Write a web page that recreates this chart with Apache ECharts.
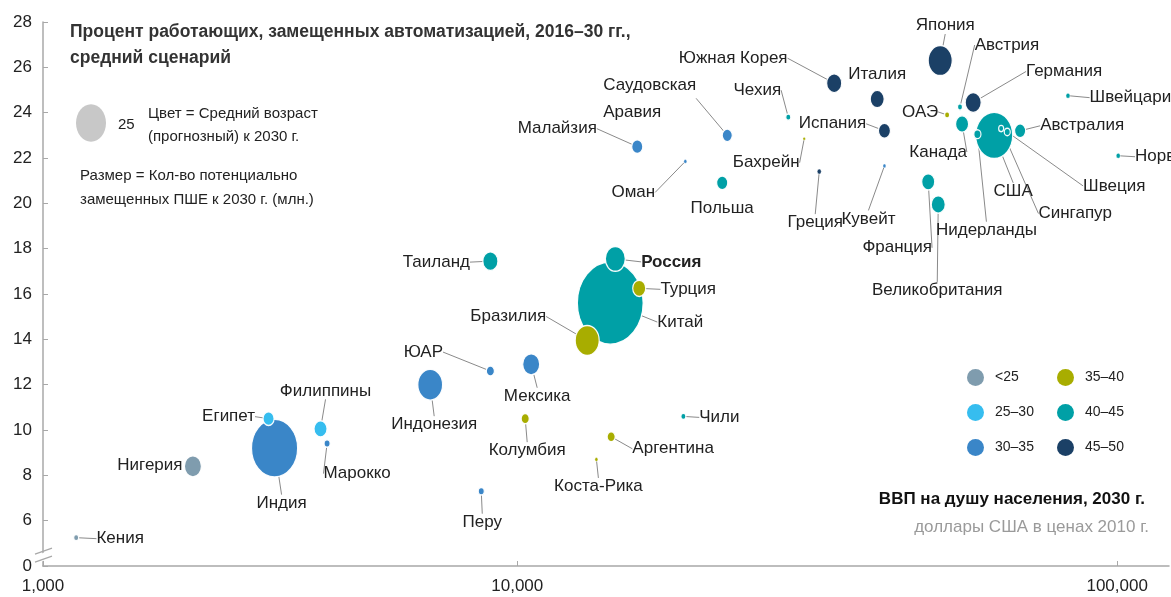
<!DOCTYPE html>
<html><head><meta charset="utf-8">
<script src="https://cdn.jsdelivr.net/npm/echarts@6/dist/echarts.min.js"></script>
<style>html,body{margin:0;padding:0;background:#fff}#c{width:1171px;height:597px}</style>
</head><body><div id="c"></div>
<script>
// ---------------- data ----------------
const countries = ['Кения','Нигерия','Индия','Египет','Филиппины','Марокко','Индонезия','ЮАР','Мексика','Колумбия','Перу','Таиланд','Россия','Китай','Турция','Бразилия','Коста-Рика','Аргентина','Чили','Малайзия','Саудовская Аравия','Оман','Польша','Чехия','Бахрейн','Южная Корея','Италия','Испания','Греция','Кувейт','Япония','Австрия','Германия','ОАЭ','Канада','США','Нидерланды','Сингапур','Швеция','Австралия','Швейцария','Норвегия','Франция','Великобритания'];
// GDP per capita 2030, USD (2010 prices)
const gdpPerCapita = [1840,2880,3940,3850,4700,4820,7160,9020,10550,10310,8710,9020,14570,14290,15970,13080,13550,14340,18920,15850,22390,19060,21960,28300,30080,33750,39810,40930,31870,40930,50700,54700,57540,52060,55140,62370,58480,64060,65580,68900,82790,100400,48420,50320];
// share of workers displaced by automation 2016-30, %
const pctDisplaced = [5.25,8.4,9.2,10.5,10.05,9.4,12.0,12.6,12.9,10.5,7.3,17.45,17.55,15.6,16.25,13.95,8.7,9.7,10.6,22.5,23.0,21.85,20.9,23.8,22.85,25.3,24.6,23.2,21.4,21.65,26.3,24.25,24.45,23.9,23.5,23.0,23.05,23.3,23.15,23.2,24.75,22.1,20.95,19.95];
// potentially displaced FTE by 2030, millions
const displacedMln = [0.7,8.0,59,3.4,4.7,1.0,17,1.8,8.0,1.8,1.0,6.3,11,120,4.7,16,0.25,1.8,0.7,3.4,2.8,0.25,3.4,0.7,0.17,6.3,5.4,4.0,0.45,0.25,16,0.7,7.1,0.7,4.7,38,1.4,0.7,1.0,3.4,0.45,0.45,4.7,5.4];
// median age group index (into ageCategories)
const ageGroup = [0,0,2,1,1,2,2,2,2,3,2,4,4,4,3,3,3,3,4,2,2,2,4,4,3,5,5,5,5,2,5,4,5,3,4,4,4,4,4,4,4,4,4,4];
const ageCategories = ['<25','25–30','30–35','35–40','40–45','45–50'];
const xTickLabels = ['1,000','10,000','100,000'];
const sizeLegendValue = 25;

// ---------------- styling ----------------
const FONT = "'Liberation Sans', Arial, sans-serif";
const ageColors = ['#7f9cae','#36bdef','#3a86c8','#a8ad00','#00a0a6','#1b4066'];
const sizeOf = m => { const d = 6 * Math.sqrt(m); return [d, d * 1.25]; };
// label centre offset relative to bubble centre [dx, dy]
const labelOffsets = {
  'Кения':[44,1],'Нигерия':[-43,-1],'Индия':[7,55],'Египет':[-40,-2],'Филиппины':[5,-38],'Марокко':[30,30],
  'Индонезия':[4,40],'ЮАР':[-67,-19],'Мексика':[6,32],'Колумбия':[2,32],'Перу':[1,31],'Таиланд':[-54,1],
  'Россия':[56,3],'Китай':[70,19],'Турция':[49,1],'Бразилия':[-79,-24],'Коста-Рика':[2,27],'Аргентина':[62,12],
  'Чили':[36,1],'Малайзия':[-80,-18],'Саудовская Аравия':[-124,-37],'Оман':[-52,31],'Польша':[0,25],'Чехия':[-31,-27],
  'Бахрейн':[-38,24],'Южная Корея':[-101,-25],'Италия':[0,-25],'Испания':[-52,-7],'Греция':[-4,51],'Кувейт':[-16,53],
  'Япония':[5,-35],'Австрия':[47,-62],'Германия':[91,-31],'ОАЭ':[-27,-3],'Канада':[-24,28],'США':[19,56],
  'Нидерланды':[9,96],'Сингапур':[74,85],'Швеция':[107,54],'Австралия':[62,-5],'Швейцария':[67,2],'Норвегия':[54,1],
  'Франция':[-31,66],'Великобритания':[-1,86]
};
const noLeader = new Set(['Нигерия','Италия','Польша']);

// build series data, big bubbles first so small ones are drawn on top
const order = countries.map((_, i) => i).sort((a, b) => displacedMln[b] - displacedMln[a]);
const points = order.map(i => {
  const name = countries[i];
  const item = {
    name,
    value: [gdpPerCapita[i], pctDisplaced[i], displacedMln[i], ageGroup[i]],
    itemStyle: { color: ageColors[ageGroup[i]], borderWidth: displacedMln[i] < 0.5 ? 0.4 : 1.3 },
    labelLine: { show: !noLeader.has(name) }
  };
  if (name === 'Россия') item.label = { fontWeight: 'bold' };
  if (name === 'Саудовская Аравия') item.label = { formatter: 'Саудовская\nАравия', align: 'left', lineHeight: 27 };
  return item;
});

const chart = echarts.init(document.getElementById('c'), null, { renderer: 'canvas' });

const dummySeries = ageCategories.map((c, k) => ({
  name: c, type: 'scatter', data: [], itemStyle: { color: ageColors[k], opacity: 1 }
}));

const legendCommon = {
  orient: 'vertical', top: 364, itemWidth: 17, itemHeight: 17, itemGap: 18, icon: 'circle',
  selectedMode: false, textStyle: { fontSize: 14, color: '#222', fontFamily: FONT, padding: [0, 0, 0, 6] }
};

chart.setOption({
  animation: false,
  backgroundColor: '#fff',
  textStyle: { fontFamily: FONT },
  title: {
    text: 'Процент работающих, замещенных автоматизацией, 2016–30 гг.,\nсредний сценарий',
    left: 65, top: 14,
    textStyle: { fontSize: 17.5, fontWeight: 'bold', color: '#333', lineHeight: 26, fontFamily: FONT }
  },
  legend: [
    Object.assign({ left: 962, data: ageCategories.slice(0, 3) }, legendCommon),
    Object.assign({ left: 1052, data: ageCategories.slice(3) }, legendCommon)
  ],
  grid: { left: 43, right: 2, top: 22, bottom: 31 },
  xAxis: {
    type: 'log', logBase: 10, min: 1620, max: 122000,
    axisLine: { lineStyle: { color: '#a8a8a8', width: 1.5 } },
    axisTick: { inside: true, length: 5, lineStyle: { color: '#a8a8a8' } },
    splitLine: { show: false },
    axisLabel: {
      showMinLabel: true, showMaxLabel: false, margin: 12, fontSize: 17, color: '#222', fontFamily: FONT,
      formatter: (v, i) => (xTickLabels[i] !== undefined ? xTickLabels[i] : '')
    }
  },
  yAxis: {
    type: 'value', min: 4, max: 28, interval: 2,
    axisLine: { show: true, lineStyle: { color: '#a8a8a8', width: 1.5 } },
    axisTick: { show: true, inside: true, length: 5, lineStyle: { color: '#a8a8a8' } },
    splitLine: { show: false },
    axisLabel: { margin: 11, fontSize: 17, color: '#222', fontFamily: FONT, formatter: v => (v === 4 ? '0' : String(v)) }
  },
  series: [{
    name: 'main', type: 'scatter',
    data: points,
    symbolSize: v => sizeOf(v[2]),
    itemStyle: { borderColor: 'rgba(255,255,255,0.95)', opacity: 1 },
    label: { show: true, position: 'inside', formatter: '{b}', fontSize: 17, color: '#222', fontFamily: FONT },
    labelLine: { show: true, lineStyle: { color: '#8a8a8a', width: 1 } },
    labelLayout: p => {
      const o = labelOffsets[points[p.dataIndex].name] || [0, 0];
      return { dx: o[0], dy: o[1] };
    },
    emphasis: { disabled: true }
  }].concat(dummySeries)
});

// static annotation graphics (legend texts, axis title, axis break)
const yb = chart.convertToPixel({ yAxisIndex: 0 }, 4.57);
const x0 = chart.convertToPixel({ xAxisIndex: 0 }, 1620);
const s = sizeOf(sizeLegendValue);
chart.setOption({
  graphic: [
    { type: 'polygon', shape: { points: [[x0 - 6, yb + 2], [x0 + 6, yb - 2], [x0 + 6, yb + 6], [x0 - 6, yb + 10]] }, style: { fill: '#fff' }, z: 100 },
    { type: 'line', shape: { x1: x0 - 8, y1: yb + 1, x2: x0 + 9, y2: yb - 5 }, style: { stroke: '#a8a8a8', lineWidth: 1.3 }, z: 101 },
    { type: 'line', shape: { x1: x0 - 8, y1: yb + 9, x2: x0 + 9, y2: yb + 3 }, style: { stroke: '#a8a8a8', lineWidth: 1.3 }, z: 101 },
    { type: 'ellipse', shape: { cx: 91, cy: 123, rx: s[0] / 2, ry: s[1] / 2 }, style: { fill: '#c8c8c8' } },
    { type: 'text', x: 118, y: 125, style: { text: '25', font: '15px ' + FONT, fill: '#222', verticalAlign: 'middle' } },
    { type: 'text', x: 148, y: 114, style: { text: 'Цвет = Средний возраст', font: '15px ' + FONT, fill: '#222', verticalAlign: 'middle' } },
    { type: 'text', x: 148, y: 137, style: { text: '(прогнозный) к 2030 г.', font: '15px ' + FONT, fill: '#222', verticalAlign: 'middle' } },
    { type: 'text', x: 80, y: 176, style: { text: 'Размер = Кол-во потенциально', font: '15px ' + FONT, fill: '#222', verticalAlign: 'middle' } },
    { type: 'text', x: 80, y: 200, style: { text: 'замещенных ПШЕ к 2030 г. (млн.)', font: '15px ' + FONT, fill: '#222', verticalAlign: 'middle' } },
    { type: 'text', x: 1145, y: 499, style: { text: 'ВВП на душу населения, 2030 г.', font: 'bold 17px ' + FONT, fill: '#111', align: 'right', verticalAlign: 'middle' } },
    { type: 'text', x: 1149, y: 527, style: { text: 'доллары США в ценах 2010 г.', font: '17px ' + FONT, fill: '#9a9a9a', align: 'right', verticalAlign: 'middle' } }
  ]
});
</script>
</body></html>
